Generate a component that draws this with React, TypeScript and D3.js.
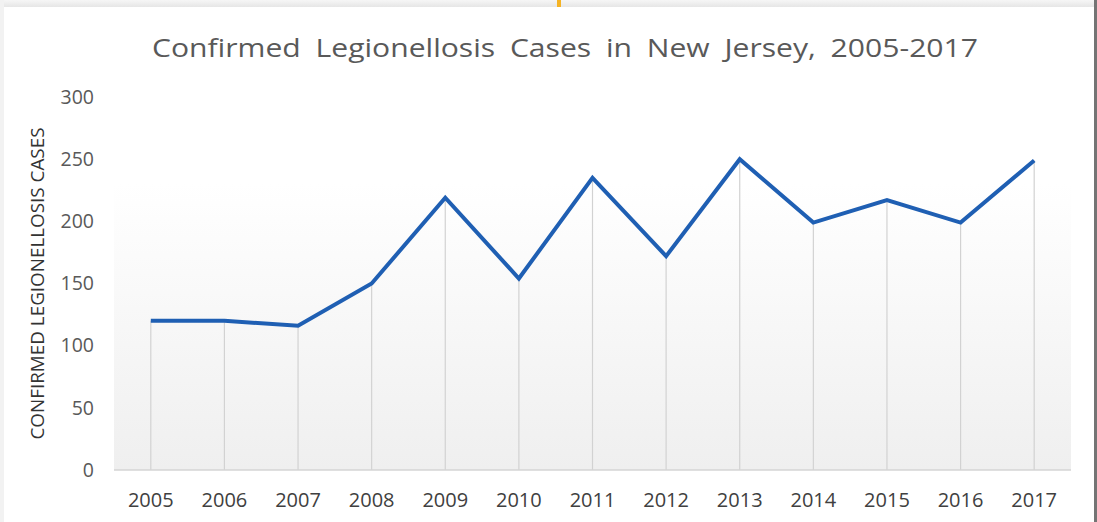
import * as d3 from 'd3';

const years = ['2005', '2006', '2007', '2008', '2009', '2010', '2011', '2012', '2013', '2014', '2015', '2016', '2017'];
const cases = [120, 120, 116, 150, 219, 154, 235, 172, 250, 199, 217, 199, 249];
const yTicks = [0, 50, 100, 150, 200, 250, 300];

const W = 1097;
const H = 522;
const margin = { top: 97, right: 26, bottom: 52, left: 114 };

const App = () => {
    const x = d3.scalePoint<string>()
        .domain(years)
        .range([margin.left, W - margin.right])
        .padding(0.5);

    const y = d3.scaleLinear()
        .domain([0, 300])
        .range([H - margin.bottom, margin.top]);

    const line = d3.line<number>()
        .x((_, i) => x(years[i])!)
        .y(d => y(d));

    const textColor = '#595959';
    const font = 'Open Sans, Lato, sans-serif';

    return (
        <svg width={W} height={H} style={{ position: 'absolute', left: 0, top: 0 }}>
            <defs>
                <linearGradient id="plotBg" x1="0" y1="0" x2="0" y2="1">
                    <stop offset="0%" stopColor="#ffffff" />
                    <stop offset="100%" stopColor="#efefef" />
                </linearGradient>
                <linearGradient id="topStrip" x1="0" y1="0" x2="0" y2="1">
                    <stop offset="0%" stopColor="#f6f6f6" />
                    <stop offset="100%" stopColor="#e6e6e6" />
                </linearGradient>
            </defs>

            {/* page frame */}
            <rect x={0} y={0} width={W} height={H} fill="#ffffff" />
            <rect x={0} y={0} width={W} height={7} fill="url(#topStrip)" />
            <rect x={0} y={0} width={4} height={H} fill="#f2f2f2" />
            <rect x={557} y={0} width={4} height={7} fill="#f5b324" />
            <rect x={1094} y={0} width={3} height={H} fill="#747474" />

            {/* plot background */}
            <rect
                x={margin.left}
                y={y(230)}
                width={W - margin.right - margin.left}
                height={y(0) - y(230)}
                fill="url(#plotBg)"
            />

            {/* title */}
            <text
                x={565}
                y={57}
                textAnchor="middle"
                fontFamily={font}
                fontSize={26}
                fill={textColor}
                wordSpacing={6}
                textLength={826}
                lengthAdjust="spacingAndGlyphs"
            >
                Confirmed Legionellosis Cases in New Jersey, 2005-2017
            </text>

            {/* y-axis title */}
            <text
                transform={`translate(38, ${y(150)}) rotate(-90)`}
                dy="0.35em"
                textAnchor="middle"
                fontFamily={font}
                fontSize={17.5}
                fill="#333333"
                textLength={312}
                lengthAdjust="spacingAndGlyphs"
            >
                CONFIRMED LEGIONELLOSIS CASES
            </text>

            {/* y ticks */}
            {yTicks.map(t => (
                <text
                    key={t}
                    x={94}
                    y={y(t)}
                    dy="0.35em"
                    textAnchor="end"
                    fontFamily={font}
                    fontSize={19.5}
                    fill={textColor}
                >
                    {t}
                </text>
            ))}

            {/* drop lines */}
            {cases.map((v, i) => (
                <line
                    key={years[i]}
                    x1={x(years[i])}
                    x2={x(years[i])}
                    y1={y(v)}
                    y2={y(0)}
                    stroke="#d2d2d2"
                    strokeWidth={1.2}
                />
            ))}

            {/* x axis */}
            <line
                x1={margin.left}
                x2={W - margin.right}
                y1={y(0)}
                y2={y(0)}
                stroke="#d4d4d4"
                strokeWidth={1.5}
            />
            {years.map(yr => (
                <text
                    key={yr}
                    x={x(yr)}
                    y={507}
                    textAnchor="middle"
                    fontFamily={font}
                    fontSize={20}
                    fill="#404040"
                >
                    {yr}
                </text>
            ))}

            {/* series */}
            <path
                d={line(cases) ?? ''}
                fill="none"
                stroke="#1f5fb3"
                strokeWidth={4}
                strokeLinejoin="miter"
            />
        </svg>
    );
};

export default App;
